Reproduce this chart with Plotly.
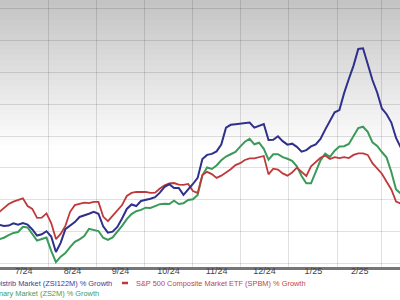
import pandas as pd
import plotly.graph_objects as go

# ---- data ----
dates = pd.date_range("2024-07-01", periods=86, freq="3D")

industry_growth = [  # blue
    -17.8, -18.1, -18.0, -17.3, -17.7, -17.2, -17.7, -19.2, -21.1, -20.7,
    -19.75, -21.4, -26.25, -23.4, -19.1, -18.1, -16.9, -15.3, -14.9, -14.3,
    -13.7, -14.3, -18.2, -20.2, -19.9, -18.4, -15.8, -12.8, -11.4, -11.9,
    -10.3, -10.0, -9.6, -9.1, -7.7, -5.9, -5.1, -6.25, -6.25, -8.4,
    -6.8, -5.0, -3.1, 2.8, 4.1, 4.4, 5.2, 7.3, 12.6, 13.5,
    13.7, 13.9, 14.2, 14.2, 12.6, 13.3, 13.75, 8.75, 8.8, 9.9,
    8.4, 7.3, 7.6, 6.6, 5.1, 5.6, 6.75, 7.4, 9.1, 12.0,
    14.5, 17.4, 18.1, 23.4, 27.8, 32.0, 37.2, 37.4, 32.5, 27.5,
    23.6, 18.6, 16.8, 14.2, 9.4, 6.4,
]
sp500_growth = [  # red
    -13.75, -12.5, -11.25, -10.5, -10.0, -9.5, -11.9, -12.8, -15.6, -15.5,
    -14.2, -17.2, -22.2, -20.6, -18.1, -13.7, -11.6, -11.1, -10.8, -11.0,
    -10.6, -10.6, -15.2, -16.6, -15.0, -13.4, -11.6, -8.75, -7.8, -7.5,
    -7.4, -7.5, -7.8, -7.7, -6.4, -5.4, -4.8, -4.7, -5.2, -5.3,
    -5.0, -7.2, -7.8, -2.2, -1.2, -1.9, -3.1, -2.4, -1.4, -0.4,
    0.9, 1.5, 2.5, 3.0, 3.0, 3.4, 3.75, -2.0, -0.2, -0.5,
    -1.7, -2.4, -1.4, 0.1, -1.1, -2.5, 0.5, 1.8, 3.2, 3.9,
    2.8, 3.4, 3.1, 3.4, 3.1, 4.1, 4.6, 4.6, 4.1, 1.5,
    -0.3, -1.8, -4.3, -6.7, -10.5, -11.1,
]
sector_growth = [  # green
    -22.25, -21.8, -21.0, -20.3, -20.0, -18.4, -18.6, -20.6, -22.7, -22.2,
    -21.75, -25.9, -29.4, -27.7, -26.6, -24.7, -23.1, -22.3, -21.3, -19.0,
    -19.3, -19.7, -21.8, -22.5, -21.7, -20.0, -18.1, -16.0, -14.4, -13.5,
    -13.1, -12.4, -12.5, -11.9, -11.3, -11.2, -11.25, -10.25, -11.25, -11.0,
    -10.0, -9.75, -8.4, -2.3, 0.15, -0.3, 0.8, 2.4, 3.6, 4.3,
    5.0, 6.7, 8.2, 9.1, 7.4, 7.9, 6.0, 2.6, 4.3, 4.3,
    3.4, 2.9, 2.25, 0.5, -2.5, -4.8, -4.8, -1.2, 2.4, 4.5,
    3.5, 5.4, 6.7, 6.8, 7.5, 10.0, 12.5, 12.9, 11.3, 8.0,
    6.9, 5.0, 3.25, -1.25, -6.7, -8.0,
]

names = [
    "Film and Television Production/Distrib Market (ZSI122M) % Growth",
    "S&P 500 Composite Market ETF (SPBM) % Growth",
    "Consumer Discretionary Market (ZS2M) % Growth",
]

BLUE = "#2f2f8c"
RED = "#c0393a"
GREEN = "#3b9a5a"

fig = go.Figure()
fig.add_trace(go.Scatter(x=dates, y=sector_growth, mode="lines",
                         line=dict(color=GREEN, width=2), name=names[2]))
fig.add_trace(go.Scatter(x=dates, y=sp500_growth, mode="lines",
                         line=dict(color=RED, width=1.8), name=names[1]))
fig.add_trace(go.Scatter(x=dates, y=industry_growth, mode="lines",
                         line=dict(color=BLUE, width=2), name=names[0]))

# gradient background (grey at top fading to white)
H = 267.0
shapes = []
nstrip = 30
for i in range(nstrip):
    y0 = i * 5.0
    y1 = y0 + 5.0
    t = (i + 0.5) / nstrip
    c = int(196 + (255 - 196) * t)
    shapes.append(dict(type="rect", xref="paper", yref="paper",
                       x0=0, x1=1, y0=(H - y1) / H, y1=(H - y0) / H,
                       fillcolor=f"rgb({c},{c},{c})", line=dict(width=0),
                       layer="below"))
# red legend swatch
shapes.append(dict(type="line", xref="paper", yref="paper",
                   x0=122 / 400, x1=128 / 400, y0=(H - 283) / H, y1=(H - 283) / H,
                   line=dict(color=RED, width=2.5)))

font = "Liberation Sans, Arial, sans-serif"
LSIZE = 7.4
annotations = [
    dict(text=names[0], xref="paper", yref="paper", x=114 / 400, y=(H - 283) / H,
         xanchor="right", yanchor="middle", showarrow=False,
         font=dict(family=font, size=LSIZE, color="#3b3b96")),
    dict(text=names[1], xref="paper", yref="paper", x=134 / 400, y=(H - 283) / H,
         xanchor="left", yanchor="middle", showarrow=False,
         font=dict(family=font, size=LSIZE, color="#c04545")),
    dict(text=names[2], xref="paper", yref="paper", x=101 / 400, y=(H - 293) / H,
         xanchor="right", yanchor="middle", showarrow=False,
         font=dict(family=font, size=LSIZE, color="#449a60")),
]

fig.update_layout(
    width=400, height=300,
    margin=dict(l=0, r=0, t=0, b=33),
    paper_bgcolor="white", plot_bgcolor="rgba(0,0,0,0)",
    showlegend=False,
    shapes=shapes, annotations=annotations,
    font=dict(family=font, size=9, color="#444444"),
)
fig.update_xaxes(
    type="date",
    range=["2024-07-01 11:30", "2025-03-12 12:00"],
    dtick="M1", tick0="2024-07-01", ticklabelmode="period",
    tickformat="%-m/%y",
    showgrid=True, gridcolor="rgba(0,0,0,0.12)", gridwidth=1,
    showline=True, linecolor="#767676", linewidth=3,
    ticks="", ticklabelstandoff=-7, tickfont=dict(size=9, color="#444444"),
)
fig.update_yaxes(
    range=[-30.94, 52.5], dtick=10, tick0=0,
    showgrid=True, gridcolor="rgba(0,0,0,0.12)", gridwidth=1,
    zeroline=False, showticklabels=False, showline=False,
)

fig.write_html("out.html")
